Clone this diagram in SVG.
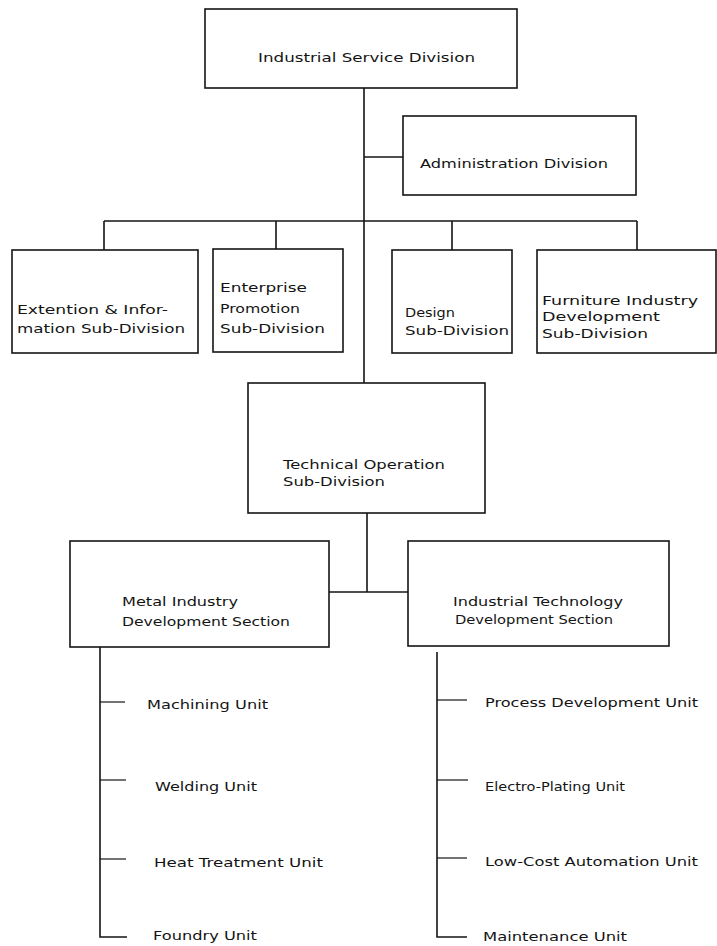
<svg xmlns="http://www.w3.org/2000/svg" width="717" height="946" viewBox="0 0 717 946">
<style>
  .box { fill: #ffffff; stroke: #141414; stroke-width: 1.6; }
  .ln { fill: none; stroke: #141414; stroke-width: 1.6; }
  .tk { fill: none; stroke: #141414; stroke-width: 1.2; }
  text { font-family: "DejaVu Sans", "Liberation Sans", sans-serif; font-size: 12.5px; fill: #141414; }
</style>
<rect width="717" height="946" fill="#ffffff"/>

<g id="connectors">
  <line class="ln" x1="364" y1="88" x2="364" y2="383"/>
  <line class="ln" x1="364" y1="157" x2="403" y2="157"/>
  <line class="ln" x1="104" y1="221" x2="637" y2="221"/>
  <line class="ln" x1="104" y1="221" x2="104" y2="250"/>
  <line class="ln" x1="276" y1="221" x2="276" y2="249"/>
  <line class="ln" x1="452" y1="221" x2="452" y2="250"/>
  <line class="ln" x1="637" y1="221" x2="637" y2="250"/>
  <line class="ln" x1="367" y1="513" x2="367" y2="592"/>
  <line class="ln" x1="329" y1="592" x2="408" y2="592"/>
  <path class="ln" d="M100,647 V937 H127"/>
  <line class="tk" x1="100" y1="702" x2="125" y2="702"/>
  <line class="tk" x1="100" y1="780" x2="126" y2="780"/>
  <line class="tk" x1="100" y1="859" x2="126" y2="859"/>
  <path class="ln" d="M437,652 V937 H467"/>
  <line class="tk" x1="437" y1="700" x2="467" y2="700"/>
  <line class="tk" x1="437" y1="780" x2="468" y2="780"/>
  <line class="tk" x1="437" y1="858" x2="467" y2="858"/>
</g>

<g id="industrial-service-division">
  <rect class="box" x="205" y="9" width="312" height="79"/>
  <text x="258" y="62" textLength="217" lengthAdjust="spacingAndGlyphs">Industrial Service Division</text>
</g>

<g id="administration-division">
  <rect class="box" x="403" y="116" width="233" height="79"/>
  <text x="420" y="168" textLength="188" lengthAdjust="spacingAndGlyphs">Administration Division</text>
</g>

<g id="extension-information">
  <rect class="box" x="12" y="250" width="186" height="103"/>
  <text x="17" y="314" textLength="151" lengthAdjust="spacingAndGlyphs">Extention &amp; Infor-</text>
  <text x="17" y="333" textLength="168" lengthAdjust="spacingAndGlyphs">mation Sub-Division</text>
</g>

<g id="enterprise-promotion">
  <rect class="box" x="213" y="249" width="130" height="103"/>
  <text x="220" y="292" textLength="87" lengthAdjust="spacingAndGlyphs">Enterprise</text>
  <text x="220" y="313" textLength="80" lengthAdjust="spacingAndGlyphs">Promotion</text>
  <text x="220" y="333" textLength="105" lengthAdjust="spacingAndGlyphs">Sub-Division</text>
</g>

<g id="design">
  <rect class="box" x="392" y="250" width="120" height="103"/>
  <text x="405" y="317" textLength="50" lengthAdjust="spacingAndGlyphs">Design</text>
  <text x="405" y="335" textLength="104" lengthAdjust="spacingAndGlyphs">Sub-Division</text>
</g>

<g id="furniture-industry">
  <rect class="box" x="537" y="250" width="179" height="103"/>
  <text x="542" y="305" textLength="156" lengthAdjust="spacingAndGlyphs">Furniture Industry</text>
  <text x="542" y="321" textLength="118" lengthAdjust="spacingAndGlyphs">Development</text>
  <text x="542" y="338" textLength="106" lengthAdjust="spacingAndGlyphs">Sub-Division</text>
</g>

<g id="technical-operation">
  <rect class="box" x="248" y="383" width="237" height="130"/>
  <text x="283" y="469" textLength="162" lengthAdjust="spacingAndGlyphs">Technical Operation</text>
  <text x="283" y="486" textLength="102" lengthAdjust="spacingAndGlyphs">Sub-Division</text>
</g>

<g id="metal-industry">
  <rect class="box" x="70" y="541" width="259" height="106"/>
  <text x="122" y="606" textLength="116" lengthAdjust="spacingAndGlyphs">Metal Industry</text>
  <text x="122" y="626" textLength="168" lengthAdjust="spacingAndGlyphs">Development Section</text>
</g>

<g id="industrial-technology">
  <rect class="box" x="408" y="541" width="261" height="105"/>
  <text x="453" y="606" textLength="170" lengthAdjust="spacingAndGlyphs">Industrial Technology</text>
  <text x="455" y="624" textLength="158" lengthAdjust="spacingAndGlyphs">Development Section</text>
</g>

<g id="machining-unit"><text x="147" y="709" textLength="121" lengthAdjust="spacingAndGlyphs">Machining Unit</text></g>
<g id="welding-unit"><text x="155" y="791" textLength="102" lengthAdjust="spacingAndGlyphs">Welding Unit</text></g>
<g id="heat-treatment-unit"><text x="154" y="867" textLength="169" lengthAdjust="spacingAndGlyphs">Heat Treatment Unit</text></g>
<g id="foundry-unit"><text x="153" y="940" textLength="104" lengthAdjust="spacingAndGlyphs">Foundry Unit</text></g>

<g id="process-development-unit"><text x="485" y="707" textLength="213" lengthAdjust="spacingAndGlyphs">Process Development Unit</text></g>
<g id="electro-plating-unit"><text x="485" y="791" textLength="140" lengthAdjust="spacingAndGlyphs">Electro-Plating Unit</text></g>
<g id="low-cost-automation-unit"><text x="485" y="866" textLength="213" lengthAdjust="spacingAndGlyphs">Low-Cost Automation Unit</text></g>
<g id="maintenance-unit"><text x="483" y="941" textLength="144" lengthAdjust="spacingAndGlyphs">Maintenance Unit</text></g>
</svg>
